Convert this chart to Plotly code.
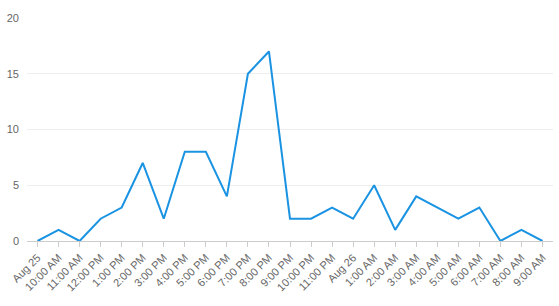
import plotly.graph_objects as go

labels = ["Aug 25", "10:00 AM", "11:00 AM", "12:00 PM", "1:00 PM", "2:00 PM", "3:00 PM",
          "4:00 PM", "5:00 PM", "6:00 PM", "7:00 PM", "8:00 PM", "9:00 PM", "10:00 PM",
          "11:00 PM", "Aug 26", "1:00 AM", "2:00 AM", "3:00 AM", "4:00 AM", "5:00 AM",
          "6:00 AM", "7:00 AM", "8:00 AM", "9:00 AM"]
values = [0, 1, 0, 2, 3, 7, 2, 8, 8, 4, 15, 17, 2, 2, 3, 2, 5, 1, 4, 3, 2, 3, 0, 1, 0]

fig = go.Figure(go.Scatter(
    x=labels, y=values, mode="lines",
    line=dict(color="#1a93e2", width=2),
    hoverinfo="x+y",
))

fig.update_layout(
    width=559, height=306,
    margin=dict(l=27, r=6, t=18, b=65),
    paper_bgcolor="white", plot_bgcolor="white",
    showlegend=False,
    font=dict(family="Liberation Sans, Arial, sans-serif", size=11, color="#666666"),
)
fig.update_xaxes(
    type="category", range=[-0.5, 24.5],
    tickangle=-45, showgrid=False,
    showline=True, linecolor="#cccccc", linewidth=1,
    ticks="outside", ticklen=5, tickcolor="#cccccc",
    tickfont=dict(size=11, color="#666666"),
)
fig.update_yaxes(
    range=[0, 20], tickvals=[0, 5, 10, 15, 20],
    showgrid=True, gridcolor="#eeeeee", gridwidth=1,
    zeroline=False, showline=False,
    ticklabelstandoff=7,
    tickfont=dict(size=11, color="#666666"),
)

fig.write_html("out.html")
